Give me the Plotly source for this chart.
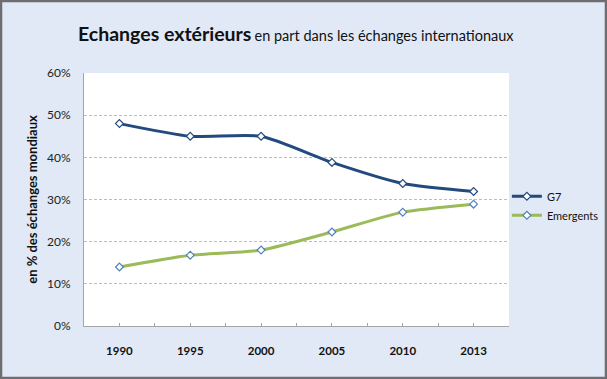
import plotly.graph_objects as go

years = ["1990", "1995", "2000", "2005", "2010", "2013"]
g7 = [0.48, 0.45, 0.45, 0.388, 0.338, 0.319]
emergents = [0.14, 0.168, 0.180, 0.223, 0.270, 0.289]
y_ticks = [0, 0.1, 0.2, 0.3, 0.4, 0.5, 0.6]

FONT = "Lato, 'Open Sans', sans-serif"
BG = "#E0E9F5"
L, R, T, B = 84, 98, 73, 53
PW, PH = 607 - L - R, 379 - T - B

fig = go.Figure()
fig.add_trace(go.Scatter(
    x=years, y=g7, name="G7", mode="lines+markers",
    line=dict(color="#234A7E", width=3, shape="spline", smoothing=0.6),
    marker=dict(symbol="diamond", size=6, color="white", line=dict(color="#234A7E", width=1.2)),
))
fig.add_trace(go.Scatter(
    x=years, y=emergents, name="Emergents", mode="lines+markers",
    line=dict(color="#9BBB59", width=3, shape="spline", smoothing=0.6),
    marker=dict(symbol="diamond", size=6, color="white", line=dict(color="#4F81BD", width=1.2)),
))
# invisible trace on overlay axis hosting the half-category tick marks
fig.add_trace(go.Scatter(x=[-0.5, 5.5], y=[None, None], xaxis="x2", showlegend=False, hoverinfo="skip"))

fig.update_layout(
    width=607, height=379,
    paper_bgcolor=BG, plot_bgcolor="white",
    margin=dict(l=L, r=R, t=T, b=B, autoexpand=False),
    font=dict(family=FONT, size=12, color="#222"),
    showlegend=True,
    legend=dict(x=0.995, y=0.475, xanchor="left", yanchor="middle", bgcolor="rgba(0,0,0,0)",
                font=dict(size=11, color="#111"), itemwidth=30, tracegroupgap=4),
    xaxis=dict(type="category", showgrid=False, showline=True, linecolor="#A6A6A6", linewidth=1,
               ticks="", tickfont=dict(size=11.5, color="#111", family=FONT, weight="bold"),
               ticklabelstandoff=14, range=[-0.5, 5.5], zeroline=False, automargin=False),
    xaxis2=dict(overlaying="x", anchor="y", side="bottom", range=[-0.5, 5.5], tick0=-0.5, dtick=0.5,
                ticks="inside", ticklen=3, tickcolor="#A6A6A6", showticklabels=False, showgrid=False,
                zeroline=False, showline=False, automargin=False),
    yaxis=dict(range=[0, 0.6], tickvals=y_ticks, tickformat=".0%", showgrid=True, gridcolor="#BDBDBD",
               griddash="3px,2px", gridwidth=1, showline=True, linecolor="#A6A6A6", linewidth=1,
               zeroline=False, ticks="", ticklabelstandoff=10, tickfont=dict(size=12, color="#222"),
               automargin=False,
               title=dict(text="<b>en % des échanges mondiaux</b>", font=dict(size=13, color="#111"),
                          standoff=6)),
    annotations=[dict(
        xref="paper", yref="paper", x=(296 - L) / PW, y=1 + (T - 33) / PH, xanchor="center",
        yanchor="middle", showarrow=False,
        text="<b><span style='font-size:19.5px'>Echanges extérieurs</span></b> "
             "<span style='font-size:14.5px'>en part dans les échanges internationaux</span>",
        font=dict(family=FONT, color="#111"),
    )],
)
# outer frame of the figure
fig.add_shape(type="rect", xref="paper", yref="paper", x0=-(L - 1) / PW, x1=1 + (R - 1) / PW,
              y0=-(B - 1) / PH, y1=1 + (T - 1) / PH, line=dict(color="#6E6E6E", width=2.5),
              layer="above")

fig.write_html("out.html", config={"displayModeBar": False},
               post_script="document.body.style.margin='0';document.body.style.overflow='hidden';")
